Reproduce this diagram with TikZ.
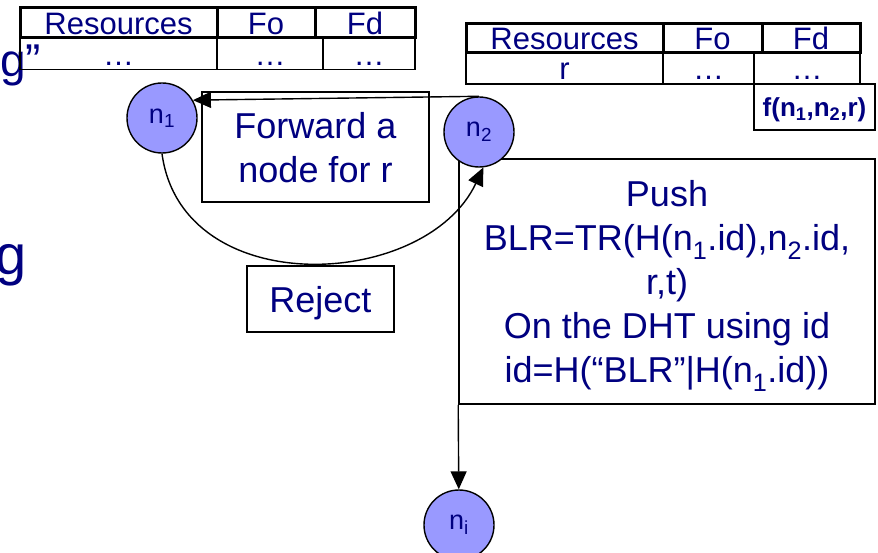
\documentclass[tikz,border=0pt]{standalone}
\usepackage{fontspec}
\setmainfont{Liberation Sans}
\usetikzlibrary{positioning,arrows.meta}

\definecolor{navytext}{RGB}{0,0,128}
\definecolor{peerblue}{RGB}{153,153,255}

\tikzset{
  hdcell/.style={draw,line width=3pt,inner sep=0,outer sep=0,minimum height=30pt,
    text height=23pt,text depth=0pt,font=\fontsize{31}{36}\selectfont},
  rowcell/.style={draw,line width=1.6pt,inner sep=0,outer sep=0,minimum height=31pt,
    text height=23pt,text depth=0pt,font=\fontsize{31}{36}\selectfont},
  peer/.style={circle,draw,line width=1.4pt,fill=peerblue,minimum size=70pt,inner sep=0,
    font=\fontsize{27}{30}\selectfont},
  msgbox/.style={draw,line width=1.6pt,inner sep=0,align=center,text depth=0pt,
    font=\fontsize{36}{44}\selectfont},
  msgarrow/.style={line width=1.4pt,-{Triangle[length=18pt,width=16pt]}}
}

\begin{document}
\begin{tikzpicture}[x=1pt,y=-1pt,text=navytext]

\useasboundingbox (0,0) rectangle (878,553);

% leftover slide text
\node [anchor=base west,inner sep=0,font=\fontsize{46}{50}\selectfont] (frag1) at (0,77) {g”};
\node [anchor=base west,inner sep=0,font=\fontsize{56}{60}\selectfont] (frag2) at (-5,275) {g};

% table of n1
\node [rowcell,minimum width=197pt] (lr1) at (118.5,54) {…};
\node [rowcell,minimum width=106pt,right=0pt of lr1] (lr2) {…};
\node [rowcell,minimum width=92pt,right=0pt of lr2] (lr3) {…};
\node [hdcell,minimum width=197pt] (lres) at (118.5,23) {Resources};
\node [hdcell,minimum width=98pt,right=0pt of lres] (lfo) {Fo};
\node [hdcell,minimum width=100pt,right=0pt of lfo] (lfd) {Fd};

% table of n2
\node [rowcell,minimum width=197pt] (rr1) at (564.5,68.5) {r};
\node [rowcell,minimum width=91pt,right=0pt of rr1] (rr2) {…};
\node [rowcell,minimum width=106pt,right=0pt of rr2] (rr3) {…};
\node [hdcell,minimum width=197pt,minimum height=29pt] (rres) at (564.5,38.5) {Resources};
\node [hdcell,minimum width=99pt,minimum height=29pt,right=0pt of rres] (rfo) {Fo};
\node [hdcell,minimum width=98pt,minimum height=29pt,right=0pt of rfo] (rfd) {Fd};
\node [draw,line width=1.6pt,inner sep=0,outer sep=0,minimum width=121pt,minimum height=46pt,
  text depth=0pt,font=\fontsize{26}{30}\selectfont\bfseries] (fval) at (814.5,107)
  {f(n\textsubscript{1},n\textsubscript{2},r)};

% messages
\node [msgbox,minimum width=227pt,minimum height=110pt] (fwd) at (315.5,147) {Forward a\\node for r};
\node [msgbox,minimum width=147pt,minimum height=66pt] (rej) at (320.5,299) {Reject};
\node [msgbox,minimum width=416pt,minimum height=245pt] (push) at (667,281.5)
  {Push\\BLR=TR(H(n\textsubscript{1}.id),n\textsubscript{2}.id,\\r,t)\\On the DHT using id\\id=H(“BLR”|H(n\textsubscript{1}.id))};

% peers
\node [peer] (n1) at (162,118) {n\textsubscript{1}};
\node [peer] (n2) at (479,132) {n\textsubscript{2}};
\node [peer] (ni) at (459,525) {n\textsubscript{i}};

\draw [msgarrow] (n2.north) -- (n1.30);
\draw [msgarrow] (n1.south) .. controls +(20,148) and +(-58,123) .. (n2.-83);
\draw [msgarrow] (push.south west) -- (ni);

\end{tikzpicture}
\end{document}
